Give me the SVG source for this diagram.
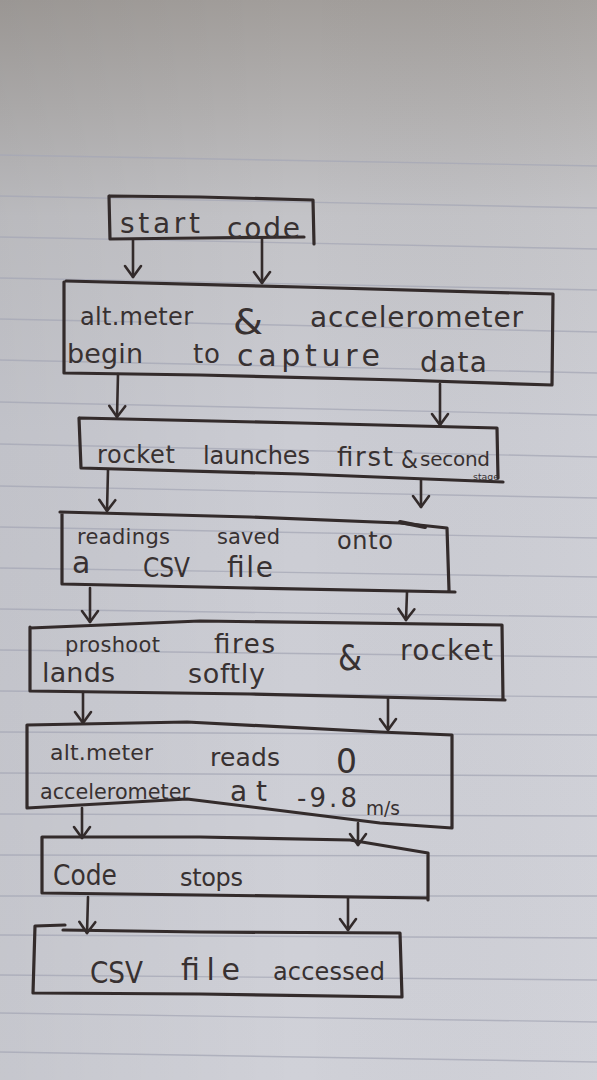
<svg xmlns="http://www.w3.org/2000/svg" width="597" height="1080" viewBox="0 0 597 1080">
  <defs>
    <linearGradient id="paper" x1="0" y1="0" x2="0" y2="1">
      <stop offset="0" stop-color="#a29e9b"/>
      <stop offset="0.1" stop-color="#b2b0b0"/>
      <stop offset="0.2" stop-color="#c3c3c7"/>
      <stop offset="0.4" stop-color="#cbccd3"/>
      <stop offset="1" stop-color="#d0d1d8"/>
    </linearGradient>
    <linearGradient id="shade" x1="0" y1="0" x2="1" y2="0">
      <stop offset="0" stop-color="#000" stop-opacity="0.05"/>
      <stop offset="0.5" stop-color="#000" stop-opacity="0"/>
      <stop offset="1" stop-color="#fff" stop-opacity="0.04"/>
    </linearGradient>
    <marker id="arrow" viewBox="-12 -9 14 18" markerWidth="14" markerHeight="18" markerUnits="userSpaceOnUse" orient="auto" overflow="visible">
      <path d="M-11,-8 L0,0 L-11,8" fill="none" stroke="#332b2b" stroke-width="2.6" stroke-linecap="round" stroke-linejoin="round"/>
    </marker>
  </defs>
  <style>
    .box { fill: none; stroke: #332b2b; stroke-width: 3.2; stroke-linejoin: round; stroke-linecap: round; }
    .conn { fill: none; stroke: #332b2b; stroke-width: 2.6; stroke-linecap: round; marker-end: url(#arrow); }
    .rule { stroke: #a6a8b6; stroke-width: 1.4; opacity: 0.75; }
    text { font-family: "DejaVu Sans", "Liberation Sans", sans-serif; fill: #383131; font-size: 28px; }
    .tiny { font-size: 9px; }
  </style>

  <!-- paper -->
  <rect x="0" y="0" width="597" height="1080" fill="url(#paper)"/>
  <rect x="0" y="0" width="597" height="1080" fill="url(#shade)"/>

  <!-- ruled lines -->
  <g id="rules">
    <line class="rule" x1="0" y1="155" x2="597" y2="166" opacity="0.3"/>
    <line class="rule" x1="0" y1="196" x2="597" y2="208" opacity="0.5"/>
    <line class="rule" x1="0" y1="237" x2="597" y2="249"/>
    <line class="rule" x1="0" y1="278" x2="597" y2="290"/>
    <line class="rule" x1="0" y1="319" x2="597" y2="332"/>
    <line class="rule" x1="0" y1="360" x2="597" y2="373"/>
    <line class="rule" x1="0" y1="402" x2="597" y2="415"/>
    <line class="rule" x1="0" y1="444" x2="597" y2="457"/>
    <line class="rule" x1="0" y1="486" x2="597" y2="498"/>
    <line class="rule" x1="0" y1="527" x2="597" y2="538"/>
    <line class="rule" x1="0" y1="568" x2="597" y2="577"/>
    <line class="rule" x1="0" y1="609" x2="597" y2="617"/>
    <line class="rule" x1="0" y1="650" x2="597" y2="657"/>
    <line class="rule" x1="0" y1="691" x2="597" y2="697"/>
    <line class="rule" x1="0" y1="732" x2="597" y2="735"/>
    <line class="rule" x1="0" y1="773" x2="597" y2="776"/>
    <line class="rule" x1="0" y1="814" x2="597" y2="816"/>
    <line class="rule" x1="0" y1="855" x2="597" y2="856"/>
    <line class="rule" x1="0" y1="896" x2="597" y2="896"/>
    <line class="rule" x1="0" y1="935" x2="597" y2="938"/>
    <line class="rule" x1="0" y1="975" x2="597" y2="980"/>
    <line class="rule" x1="0" y1="1013" x2="597" y2="1022"/>
    <line class="rule" x1="0" y1="1052" x2="597" y2="1062"/>
  </g>

  <!-- connectors -->
  <g id="connectors">
    <path class="conn" d="M133,240 L133,277"/>
    <path class="conn" d="M262,238 L262,283"/>
    <path class="conn" d="M118,374 L117,417"/>
    <path class="conn" d="M440,384 L440,425"/>
    <path class="conn" d="M108,470 L107,511"/>
    <path class="conn" d="M421,480 L421,507"/>
    <path class="conn" d="M90,588 L90,622"/>
    <path class="conn" d="M407,592 L406,620"/>
    <path class="conn" d="M83,692 L83,723"/>
    <path class="conn" d="M388,698 L388,730"/>
    <path class="conn" d="M82,808 L82,838"/>
    <path class="conn" d="M358,823 L358,845"/>
    <path class="conn" d="M88,897 L87,933"/>
    <path class="conn" d="M348,898 L348,930"/>
  </g>

  <!-- start code -->
  <g id="node-start">
    <path class="box" d="M110,196 L200,197 L313,200 L314,244 M109,196 L110,239 L200,238 L304,237"/>
    <text x="120" y="233" textLength="80" lengthAdjust="spacing">start</text>
    <text x="227" y="238" textLength="73" lengthAdjust="spacing">code</text>
  </g>

  <!-- sensors begin capture -->
  <g id="node-capture">
    <path class="box" d="M66,281 L300,287 L553,294 L552,385 M64,282 L64,373 L200,375 L400,380 L552,385"/>
    <text x="80" y="325" style="font-size:24px" textLength="113" lengthAdjust="spacing">alt.meter</text>
    <text x="233" y="334" style="font-size:36px" textLength="30" lengthAdjust="spacingAndGlyphs">&amp;</text>
    <text x="310" y="327" textLength="213" lengthAdjust="spacing">accelerometer</text>
    <text x="67" y="363" style="font-size:27px" textLength="76" lengthAdjust="spacing">begin</text>
    <text x="193" y="363" style="font-size:26px" textLength="27" lengthAdjust="spacing">to</text>
    <text x="237" y="366" style="font-size:30px" textLength="143" lengthAdjust="spacing">capture</text>
    <text x="420" y="372" textLength="67" lengthAdjust="spacing">data</text>
  </g>

  <!-- launch -->
  <g id="node-launch">
    <path class="box" d="M80,418 L300,423 L497,428 L498,478 M79,418 L81,468 L300,474 L503,482"/>
    <text x="97" y="463" style="font-size:24px" textLength="78" lengthAdjust="spacing">rocket</text>
    <text x="203" y="464" style="font-size:24px" textLength="107" lengthAdjust="spacing">launches</text>
    <text x="337" y="466" style="font-size:26px" textLength="56" lengthAdjust="spacing">first</text>
    <text x="401" y="468" style="font-size:24px" textLength="17" lengthAdjust="spacingAndGlyphs">&amp;</text>
    <text x="420" y="466" style="font-size:20px" textLength="70" lengthAdjust="spacing">second</text>
    <text class="tiny" x="473" y="480" textLength="26" lengthAdjust="spacingAndGlyphs">stage</text>
  </g>

  <!-- save readings -->
  <g id="node-save">
    <path class="box" d="M60,512 L250,517 L400,523 L447,528 L449,590 M62,513 L62,584 L250,588 L455,592"/>
    <path class="box" d="M400,522 L425,527" style="stroke-width:4"/>
    <text x="77" y="544" style="font-size:21px" textLength="93" lengthAdjust="spacing">readings</text>
    <text x="217" y="544" style="font-size:21px" textLength="63" lengthAdjust="spacing">saved</text>
    <text x="337" y="549" style="font-size:24px" textLength="56" lengthAdjust="spacing">onto</text>
    <text x="72" y="573" style="font-size:30px">a</text>
    <text x="143" y="577" style="font-size:27px" textLength="47" lengthAdjust="spacingAndGlyphs">CSV</text>
    <text x="227" y="577" textLength="46" lengthAdjust="spacing">file</text>
  </g>

  <!-- parachute and landing -->
  <g id="node-landing">
    <path class="box" d="M30,628 L200,621 L502,625 L503,700 M30,627 L30,691 L250,694 L505,700"/>
    <text x="65" y="652" style="font-size:21px" textLength="95" lengthAdjust="spacing">proshoot</text>
    <text x="214" y="653" style="font-size:26px" textLength="61" lengthAdjust="spacing">fires</text>
    <text x="338" y="670" style="font-size:36px" textLength="24" lengthAdjust="spacingAndGlyphs">&amp;</text>
    <text x="400" y="660" textLength="93" lengthAdjust="spacing">rocket</text>
    <text x="42" y="682" style="font-size:27px" textLength="73" lengthAdjust="spacing">lands</text>
    <text x="188" y="683" style="font-size:27px" textLength="77" lengthAdjust="spacing">softly</text>
  </g>

  <!-- readings at landing -->
  <g id="node-readings">
    <path class="box" d="M27,725 L187,722 L380,732 L452,735 L452,828 M27,725 L27,808 L187,799 L260,808 L380,823 L452,828"/>
    <text x="50" y="760" style="font-size:22px" textLength="103" lengthAdjust="spacing">alt.meter</text>
    <text x="210" y="766" style="font-size:25px" textLength="70" lengthAdjust="spacing">reads</text>
    <text x="336" y="773" style="font-size:34px" textLength="21" lengthAdjust="spacingAndGlyphs">0</text>
    <text x="40" y="799" style="font-size:22px" textLength="150" lengthAdjust="spacingAndGlyphs">accelerometer</text>
    <text x="230" y="801" style="font-size:28px" textLength="37" lengthAdjust="spacing">at</text>
    <text x="297" y="807" style="font-size:26px" textLength="60" lengthAdjust="spacing">-9.8</text>
    <text x="366" y="815" style="font-size:20px" textLength="34" lengthAdjust="spacingAndGlyphs">m/s</text>
  </g>

  <!-- code stops -->
  <g id="node-stop">
    <path class="box" d="M42,837 L200,837 L350,840 L428,853 L428,900 M42,837 L42,893 L200,895 L428,898"/>
    <text x="53" y="885" style="font-size:28px" textLength="64" lengthAdjust="spacingAndGlyphs">Code</text>
    <text x="180" y="886" style="font-size:24px" textLength="63" lengthAdjust="spacing">stops</text>
  </g>

  <!-- csv accessed -->
  <g id="node-access">
    <path class="box" d="M35,926 L65,925 M63,930 L200,932 L400,933 L402,997 M35,926 L33,993 L200,994 L402,997"/>
    <text x="90" y="983" style="font-size:30px" textLength="53" lengthAdjust="spacingAndGlyphs">CSV</text>
    <text x="181" y="980" style="font-size:30px" textLength="59" lengthAdjust="spacing">file</text>
    <text x="273" y="980" style="font-size:24px" textLength="112" lengthAdjust="spacing">accessed</text>
  </g>
</svg>
